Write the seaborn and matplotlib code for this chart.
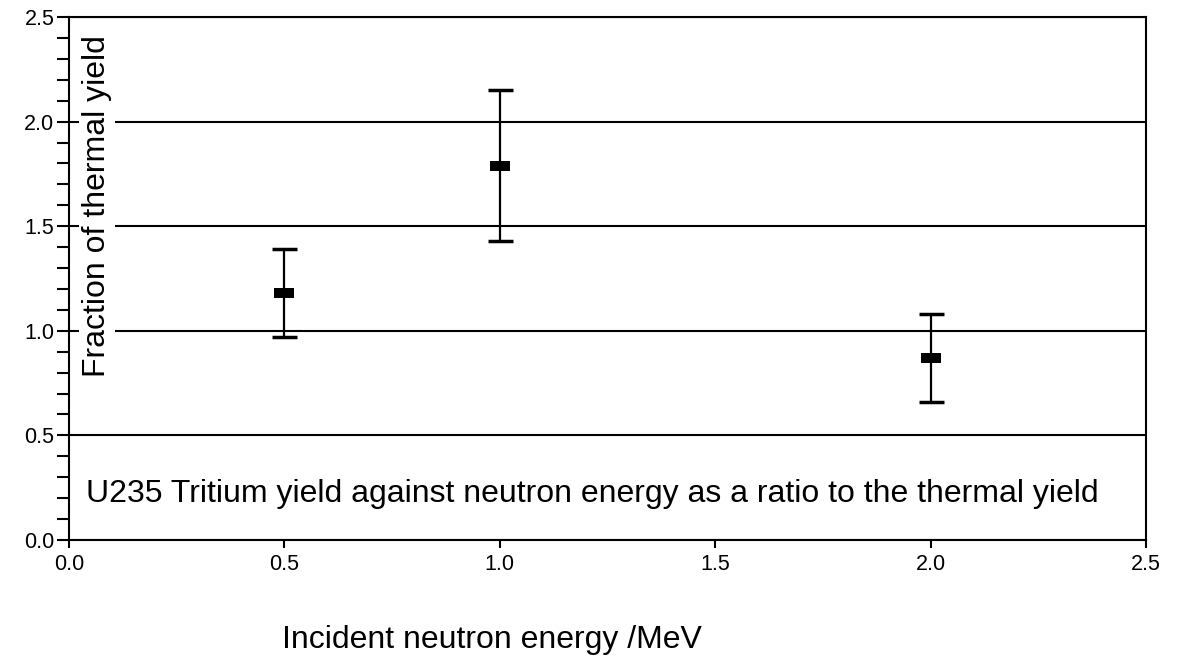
import matplotlib
matplotlib.use('Agg')
import matplotlib.pyplot as plt
import seaborn as sns
import pandas as pd
from matplotlib.ticker import MultipleLocator, FormatStrFormatter

# data
energy = [0.5, 1.0, 2.0]
ratio = [1.18, 1.79, 0.87]
low = [0.97, 1.43, 0.66]
high = [1.39, 2.15, 1.08]

df = pd.DataFrame({'energy': energy, 'ratio': ratio, 'low': low, 'high': high})

sns.set_style('ticks')
plt.rcParams['font.family'] = ['Liberation Sans', 'DejaVu Sans']
plt.rcParams['text.color'] = 'black'
plt.rcParams['xtick.color'] = 'black'
plt.rcParams['ytick.color'] = 'black'

fig = plt.figure(figsize=(11.78, 6.62), dpi=100)
ax = fig.add_axes([69 / 1178, 1 - 540 / 662, (1146 - 69) / 1178, (540 - 17) / 662])

# error bars
yerr = [df['ratio'] - df['low'], df['high'] - df['ratio']]
ax.errorbar(df['energy'], df['ratio'], yerr=yerr, fmt='none', ecolor='black',
            elinewidth=1.6, capsize=9, capthick=2.5, zorder=3)

# flat rectangular markers
rect = [(-1, -0.55), (1, -0.55), (1, 0.55), (-1, 0.55), (-1, -0.55)]
sns.scatterplot(data=df, x='energy', y='ratio', marker=rect, s=200, color='black',
                edgecolor='black', linewidth=0, ax=ax, zorder=4)

ax.set_xlim(0, 2.5)
ax.set_ylim(0, 2.5)
ax.xaxis.set_major_locator(MultipleLocator(0.5))
ax.yaxis.set_major_locator(MultipleLocator(0.5))
ax.yaxis.set_minor_locator(MultipleLocator(0.1))
ax.xaxis.set_major_formatter(FormatStrFormatter('%.1f'))
ax.yaxis.set_major_formatter(FormatStrFormatter('%.1f'))

ax.yaxis.grid(True, which='major', color='black', linewidth=1.5)
ax.set_axisbelow(True)

for s in ax.spines.values():
    s.set_visible(True)
    s.set_linewidth(1.5)
    s.set_color('black')

ax.tick_params(axis='y', which='both', length=8.5, width=1.5,
               labelsize=15.5, pad=2)
ax.tick_params(axis='x', which='major', length=6, width=1.5,
               labelsize=15.5, pad=4)
ax.tick_params(axis='x', which='minor', length=0)

ax.set_xlabel('')
ax.set_ylabel('')

ax.text(0.026, 0.638, 'Fraction of thermal yield', transform=ax.transAxes,
        rotation=90, ha='center', va='center', fontsize=23,
        bbox=dict(facecolor='white', edgecolor='none', pad=2), zorder=2)

ax.text(0.486, 0.088, 'U235 Tritium yield against neutron energy as a ratio to the thermal yield',
        transform=ax.transAxes, ha='center', va='center', fontsize=23)

fig.text(492 / 1178, 1 - 640 / 662, 'Incident neutron energy /MeV', ha='center',
         va='center', fontsize=23)

fig.savefig('out.png', dpi=100)
